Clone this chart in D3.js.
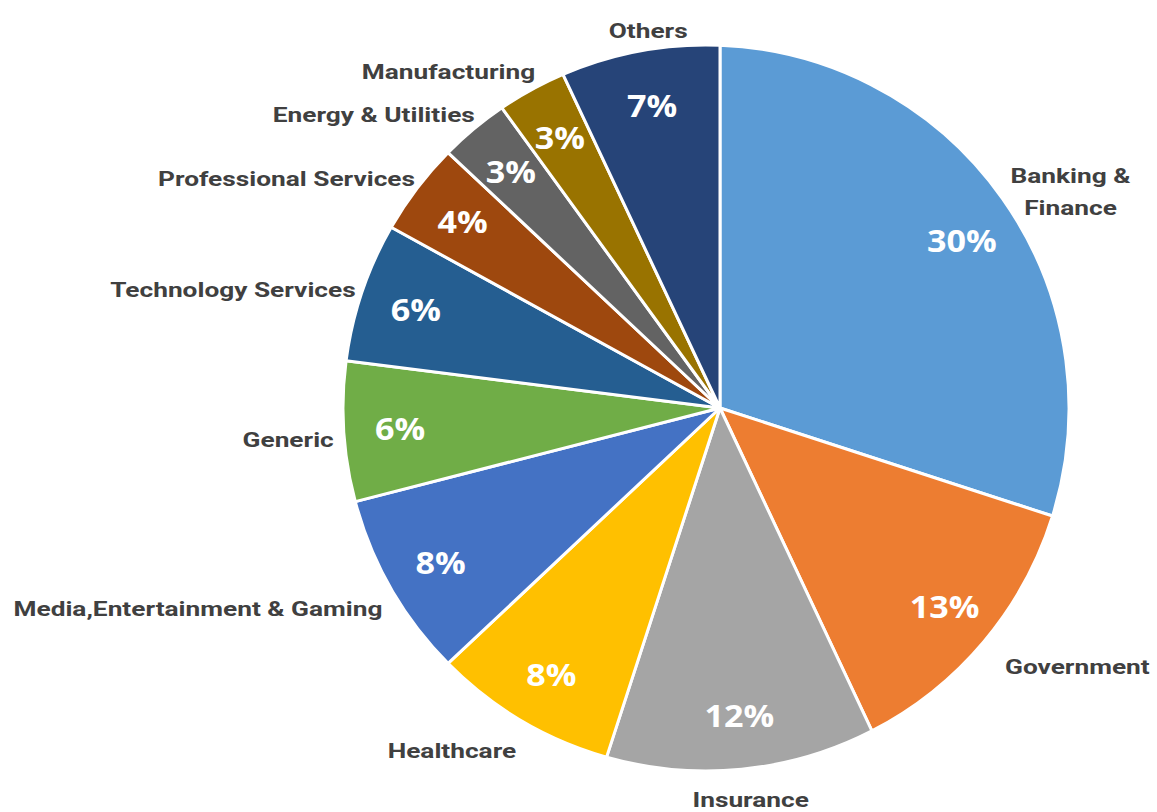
<!DOCTYPE html>
<html>
<head>
<meta charset="utf-8">
<script src="https://cdn.jsdelivr.net/npm/d3@7"></script>
<style>
  html, body { margin: 0; padding: 0; background: #ffffff; }
  svg { display: block; }
</style>
</head>
<body>
<svg id="chart" width="1157" height="812"></svg>
<script>
// Share of customers by industry (%)
const categories = [
  "Banking & Finance", "Government", "Insurance", "Healthcare",
  "Media,Entertainment & Gaming", "Generic", "Technology Services",
  "Professional Services", "Energy & Utilities", "Manufacturing", "Others"
];
const shares = [30, 13, 12, 8, 8, 6, 6, 4, 3, 3, 7];
const sliceColors = [
  "#5B9BD5", "#ED7D31", "#A5A5A5", "#FFC000", "#4472C4", "#70AD47",
  "#255E91", "#9E480E", "#636363", "#997300", "#264478"
];

const W = 1157, H = 812;
const svg = d3.select("#chart");

// Pie apex and the circle that bounds the outer rim
const apex = { x: 720, y: 408 };
const rim = { x: 706, y: 408, r: 363 };

const pie = d3.pie().sort(null).value(d => d.value);
const arcs = pie(categories.map((name, i) => ({ name, value: shares[i], color: sliceColors[i] })));

// Distance from the apex to the rim along a pie angle (0 = up, clockwise)
function rayLength(a) {
  const ux = Math.sin(a), uy = -Math.cos(a);
  const dx = apex.x - rim.x, dy = apex.y - rim.y;
  const b = dx * ux + dy * uy;
  const c = dx * dx + dy * dy - rim.r * rim.r;
  return -b + Math.sqrt(b * b - c);
}
function pointAt(a, t) {
  return { x: apex.x + Math.sin(a) * t, y: apex.y - Math.cos(a) * t };
}
function slicePath(d) {
  const p0 = pointAt(d.startAngle, rayLength(d.startAngle));
  const p1 = pointAt(d.endAngle, rayLength(d.endAngle));
  const phi0 = Math.atan2(p0.y - rim.y, p0.x - rim.x);
  const phi1 = Math.atan2(p1.y - rim.y, p1.x - rim.x);
  const p = d3.path();
  p.moveTo(apex.x, apex.y);
  p.lineTo(p0.x, p0.y);
  p.arc(rim.x, rim.y, rim.r, phi0, phi1, false);
  p.closePath();
  return p.toString();
}

// Widen a text run horizontally by a factor
function widen(node, k) {
  const len = node.getComputedTextLength();
  d3.select(node).attr("textLength", len * k).attr("lengthAdjust", "spacingAndGlyphs");
}

svg.append("rect").attr("width", W).attr("height", H).attr("fill", "#ffffff");

svg.append("g").selectAll("path")
  .data(arcs)
  .join("path")
  .attr("d", slicePath)
  .attr("fill", d => d.data.color)
  .attr("stroke", "#ffffff")
  .attr("stroke-width", 3)
  .attr("stroke-linejoin", "round");

// Percentage labels inside the slices
svg.append("g").selectAll("text")
  .data(arcs)
  .join("text")
  .each(function(d) {
    const a = (d.startAngle + d.endAngle) / 2;
    const p = pointAt(a, rayLength(a) * 0.85);
    d3.select(this).attr("x", p.x).attr("y", p.y + (d.value >= 20 ? 8 : 0));
  })
  .attr("text-anchor", "middle")
  .attr("dominant-baseline", "central")
  .attr("fill", "#ffffff")
  .style("font-family", "'Open Sans', sans-serif")
  .style("font-weight", 700)
  .style("font-size", "31px")
  .text(d => d.data.value + "%")
  .each(function() { widen(this, 1.1); });

// Category labels outside the rim
const outer = svg.append("g")
  .style("font-family", "Roboto, sans-serif")
  .style("font-weight", 700)
  .style("font-size", "21px")
  .attr("fill", "#404040");

arcs.forEach(d => {
  const a = (d.startAngle + d.endAngle) / 2;
  const ux = Math.sin(a), uy = -Math.cos(a);
  const e = pointAt(a, rayLength(a));
  let x = e.x + ux * 10 + Math.max(0, -uy) * 10;
  if (ux > 0) x += Math.max(0, uy) * 20;
  const y = e.y + uy * 28 + 7;
  let anchor = "middle";
  let lx = e.x + 8;
  if (Math.abs(ux) > 0.3) { anchor = ux > 0 ? "start" : "end"; lx = x; }
  const lines = d.data.name === "Banking & Finance" ? ["Banking &", "Finance"] : [d.data.name];
  const t = outer.append("text")
    .attr("text-anchor", anchor)
    .attr("dominant-baseline", "central")
    .attr("x", lx)
    .attr("y", y - (lines.length - 1) * 16);
  lines.forEach((ln, i) => {
    t.append("tspan").attr("x", lx).attr("dy", i === 0 ? 0 : 32).text(ln);
  });
  t.selectAll("tspan").each(function() { widen(this, 1.25); });
  if (lines.length > 1) {
    // centre the wrapped lines on each other
    const w = t.node().getBBox().width;
    t.attr("text-anchor", "middle");
    t.selectAll("tspan").attr("x", lx - 8 + w / 2);
  }
  if (d.data.name === "Insurance") t.attr("y", y - 4);
});
</script>
</body>
</html>
